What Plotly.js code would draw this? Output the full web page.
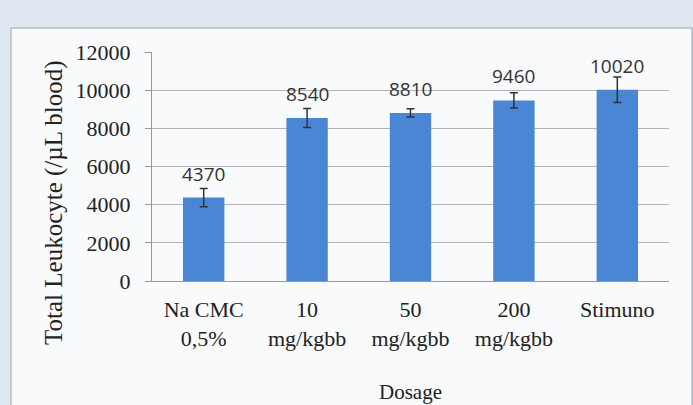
<!DOCTYPE html>
<html>
<head>
<meta charset="utf-8">
<script src="https://cdn.plot.ly/plotly-3.0.1.min.js"></script>
<style>html,body{margin:0;padding:0;background:#dfe7f0;}#chart{width:693px;height:405px;}</style>
</head>
<body>
<div id="chart"></div>
<script>
const categories = ["Na CMC<br>0,5%", "10<br>mg/kgbb", "50<br>mg/kgbb", "200<br>mg/kgbb", "Stimuno"];
const leukocyte = [4370, 8540, 8810, 9460, 10020];
const errors = [480, 500, 220, 400, 670];
const labels = ["4370", "8540", "8810", "9460", "10020"];
const yTicks = [0, 2000, 4000, 6000, 8000, 10000, 12000];
const yTitle = "Total Leukocyte (/µL blood)";
const xTitle = "Dosage";

const serif = "'Liberation Serif', 'Times New Roman', Times, serif";

const trace = {
  type: "bar",
  x: categories,
  y: leukocyte,
  width: 0.4,
  marker: {color: "#4a86d4"},
  error_y: {type: "data", array: errors, visible: true, color: "#333333", thickness: 1.5, width: 4},
  hoverinfo: "skip"
};

const annotations = categories.map((c, i) => ({
  x: c, y: leukocyte[i], xref: "x", yref: "y",
  text: labels[i], showarrow: false, yanchor: "bottom", yshift: 9,
  font: {family: "Open Sans", size: 19, color: "#333333"}
}));
annotations.push({
  xref: "paper", yref: "paper", x: (54 - 152) / 517, y: (281 - 203) / 229,
  xanchor: "center", yanchor: "middle", textangle: -90, showarrow: false,
  text: yTitle, font: {family: serif, size: 25, color: "#222222"}
});

const layout = {
  width: 693, height: 405,
  margin: {l: 152, r: 24, t: 52, b: 124},
  paper_bgcolor: "#dfe7f0",
  plot_bgcolor: "rgba(0,0,0,0)",
  showlegend: false,
  shapes: [{
    type: "rect", xref: "paper", yref: "paper", layer: "below",
    x0: (11 - 152) / 517, x1: (692 - 152) / 517,
    y0: -124 / 229 - 0.1, y1: (281 - 28) / 229,
    fillcolor: "#f8fafc", line: {color: "#9aa3ad", width: 1}
  }],
  xaxis: {
    tickfont: {family: serif, size: 22, color: "#222222"},
    showline: true, linecolor: "#999999", linewidth: 1,
    ticks: "", showgrid: false, ticklabelstandoff: 9,
    title: {text: xTitle, font: {family: serif, size: 21, color: "#222222"}, standoff: 34}
  },
  yaxis: {
    range: [0, 12000], tickvals: yTicks, ticktext: yTicks.map(String),
    tickfont: {family: serif, size: 22, color: "#222222"},
    showline: true, linecolor: "#999999", linewidth: 1,
    ticks: "outside", ticklen: 6, tickcolor: "#999999", ticklabelstandoff: 10,
    showgrid: true, gridcolor: "#b4b4b4", gridwidth: 1, zeroline: false
  },
  annotations: annotations
};

Plotly.newPlot("chart", [trace], layout, {displayModeBar: false, staticPlot: true});
</script>
</body>
</html>
